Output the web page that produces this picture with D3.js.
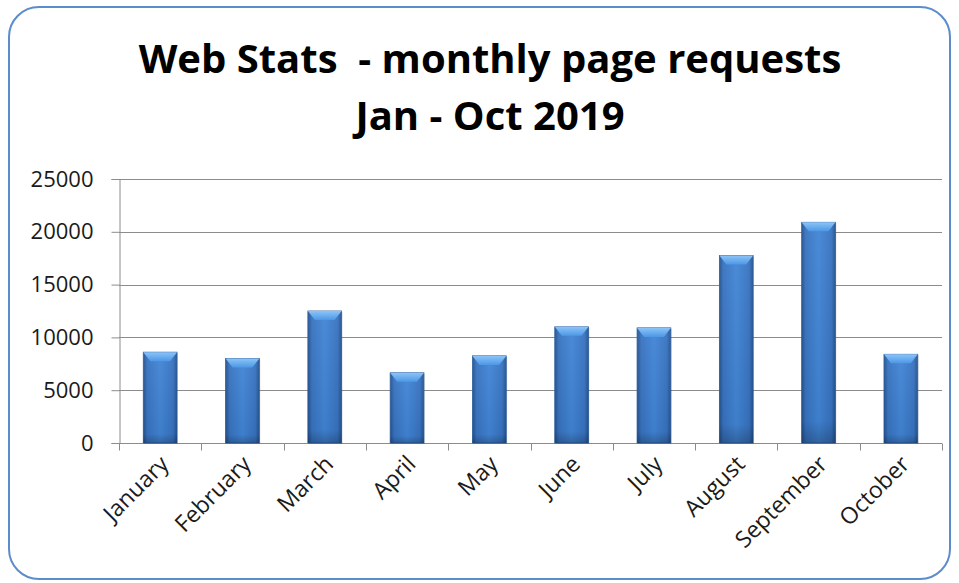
<!DOCTYPE html>
<html>
<head>
<meta charset="utf-8">
<script src="https://cdn.jsdelivr.net/npm/d3@7"></script>
<style>
  body { margin: 0; background: #fff; }
  svg { display: block; }
</style>
</head>
<body>
<div id="chart"></div>
<script>
// chart data
const months = ["January", "February", "March", "April", "May", "June", "July", "August", "September", "October"];
const requests = [8600, 8000, 12500, 6650, 8250, 11000, 10900, 17750, 20900, 8400];
const yTicks = [0, 5000, 10000, 15000, 20000, 25000];
const titleLines = ["Web Stats  - monthly page requests", "Jan - Oct 2019"];

const width = 959, height = 583;
const margin = { top: 179, right: 17, bottom: 140, left: 119 };
const font = "'Open Sans', Lato, sans-serif";

const svg = d3.select("#chart").append("svg")
  .attr("width", width)
  .attr("height", height);

// outer frame
svg.append("rect")
  .attr("x", 9).attr("y", 7)
  .attr("width", 941).attr("height", 572)
  .attr("rx", 30).attr("ry", 30)
  .attr("fill", "#fff")
  .attr("stroke", "#5b8ccb")
  .attr("stroke-width", 2);

// title
const titles = svg.append("g").selectAll("text")
  .data(titleLines)
  .join("text")
  .attr("x", 490)
  .attr("y", (d, i) => 73 + i * 57)
  .attr("text-anchor", "middle")
  .attr("font-family", font)
  .attr("font-weight", "bold")
  .attr("font-size", 40)
  .attr("fill", "#000")
  .style("white-space", "pre")
  .text(d => d);

// fit first title line to ~700px wide, same size for both
const w0 = titles.nodes()[0].getComputedTextLength();
titles.attr("font-size", 40 * 703 / w0);

const x = d3.scaleBand()
  .domain(months)
  .range([margin.left, width - margin.right])
  .paddingInner(0.59)
  .paddingOuter(0.295);

const y = d3.scaleLinear()
  .domain([0, 25000])
  .range([height - margin.bottom, margin.top]);

// gridlines
svg.append("g")
  .selectAll("line")
  .data(yTicks.filter(d => d > 0))
  .join("line")
  .attr("x1", margin.left)
  .attr("x2", width - margin.right)
  .attr("y1", d => Math.round(y(d)) + 0.5)
  .attr("y2", d => Math.round(y(d)) + 0.5)
  .attr("stroke", "#8c8c8c")
  .attr("stroke-width", 1);

// y axis
const yAxis = svg.append("g")
  .attr("transform", `translate(${margin.left + 0.5},0)`)
  .call(d3.axisLeft(y).tickValues(yTicks).tickSize(8).tickPadding(18).tickFormat(d3.format("d")));
yAxis.selectAll("path, line").attr("stroke", "#8c8c8c");
yAxis.selectAll("text")
  .attr("font-family", font)
  .attr("font-size", 22)
  .attr("fill", "#1a1a1a");

// x axis line + boundary ticks
const baseY = Math.round(y(0)) + 0.5;
svg.append("line")
  .attr("x1", margin.left).attr("x2", width - margin.right)
  .attr("y1", baseY).attr("y2", baseY)
  .attr("stroke", "#8c8c8c");

const step = x.step();
const bounds = d3.range(months.length + 1).map(i => margin.left + i * step);
svg.append("g").selectAll("line")
  .data(bounds)
  .join("line")
  .attr("x1", d => Math.round(d) + 0.5)
  .attr("x2", d => Math.round(d) + 0.5)
  .attr("y1", baseY)
  .attr("y2", baseY + 7)
  .attr("stroke", "#8c8c8c");

// x labels, rotated
svg.append("g").selectAll("text")
  .data(months)
  .join("text")
  .attr("transform", d => `translate(${x(d) + x.bandwidth() / 2 + 10},${baseY + 22}) rotate(-45)`)
  .attr("text-anchor", "end")
  .attr("font-family", font)
  .attr("font-size", 23)
  .attr("fill", "#1a1a1a")
  .text(d => d);

// gradients for bevelled bars
const defs = svg.append("defs");
const side = defs.append("linearGradient").attr("id", "barBody")
  .attr("x1", "0%").attr("x2", "100%").attr("y1", "0%").attr("y2", "0%");
side.append("stop").attr("offset", "0%").attr("stop-color", "#24528f");
side.append("stop").attr("offset", "12%").attr("stop-color", "#3873c0");
side.append("stop").attr("offset", "50%").attr("stop-color", "#4185d6");
side.append("stop").attr("offset", "88%").attr("stop-color", "#3873c0");
side.append("stop").attr("offset", "100%").attr("stop-color", "#24528f");

const vert = defs.append("linearGradient").attr("id", "barShade")
  .attr("x1", "0%").attr("x2", "0%").attr("y1", "0%").attr("y2", "100%");
vert.append("stop").attr("offset", "0%").attr("stop-color", "#fff").attr("stop-opacity", 0.05);
vert.append("stop").attr("offset", "90%").attr("stop-color", "#000").attr("stop-opacity", 0.05);
vert.append("stop").attr("offset", "100%").attr("stop-color", "#000").attr("stop-opacity", 0.25);

const topG = defs.append("linearGradient").attr("id", "barTop")
  .attr("x1", "0%").attr("x2", "0%").attr("y1", "0%").attr("y2", "100%");
topG.append("stop").attr("offset", "0%").attr("stop-color", "#8cc4f7");
topG.append("stop").attr("offset", "100%").attr("stop-color", "#4d97e6");

const bars = svg.append("g").selectAll("g")
  .data(months.map((m, i) => ({ month: m, value: requests[i] })))
  .join("g");

// soft shadow
bars.append("rect")
  .attr("x", d => x(d.month) + 1)
  .attr("y", d => y(d.value) + 1)
  .attr("width", x.bandwidth())
  .attr("height", d => y(0) - y(d.value))
  .attr("fill", "#000")
  .attr("opacity", 0.12);

bars.append("rect")
  .attr("x", d => x(d.month))
  .attr("y", d => y(d.value))
  .attr("width", x.bandwidth())
  .attr("height", d => y(0) - y(d.value))
  .attr("fill", "url(#barBody)")
  .attr("stroke", "#2a5b9c")
  .attr("stroke-width", 0.8);

bars.append("rect")
  .attr("x", d => x(d.month))
  .attr("y", d => y(d.value))
  .attr("width", x.bandwidth())
  .attr("height", d => y(0) - y(d.value))
  .attr("fill", "url(#barShade)");

// top bevel
bars.append("path")
  .attr("d", d => {
    const x0 = x(d.month), x1 = x0 + x.bandwidth(), t = y(d.value);
    return `M${x0},${t}L${x1},${t}L${x1 - 7},${t + 9}L${x0 + 7},${t + 9}Z`;
  })
  .attr("fill", "url(#barTop)");
</script>
</body>
</html>
